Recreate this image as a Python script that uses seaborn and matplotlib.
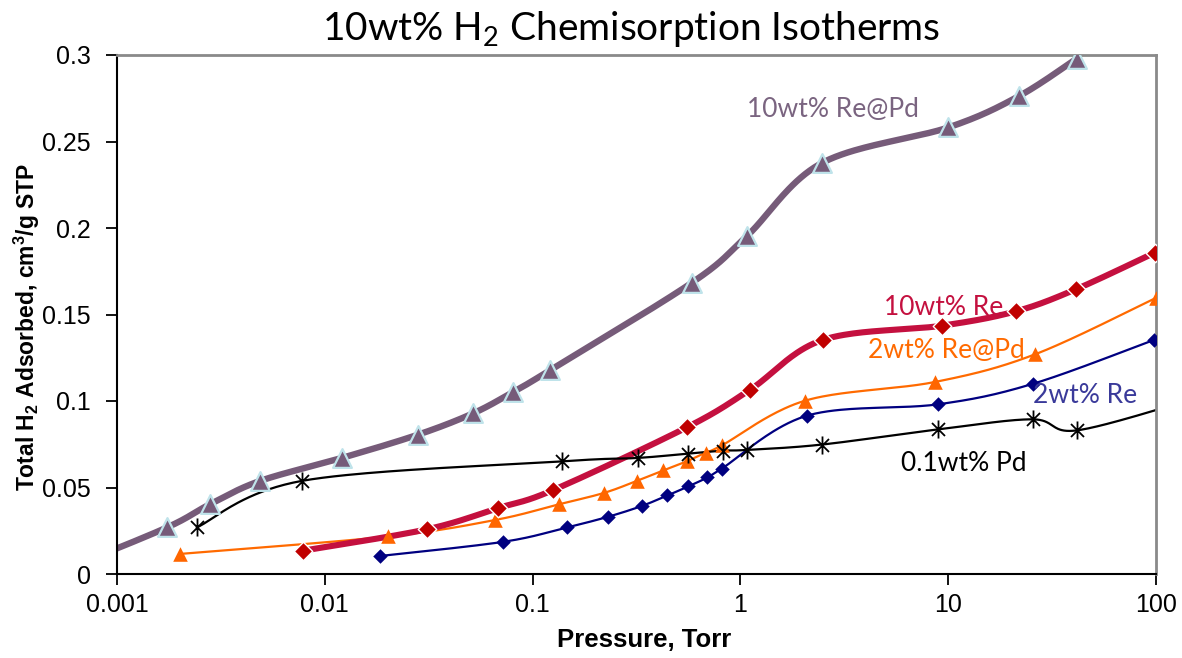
import numpy as np
import pandas as pd
import matplotlib
matplotlib.use("Agg")
import matplotlib.pyplot as plt
from matplotlib.path import Path
from matplotlib.ticker import FixedLocator, FixedFormatter, NullLocator
import seaborn as sns

# ---- isotherm data: pressure (Torr) and H2 uptake (cm3/g STP) ----
p_re_pd10 = [0.0006, 0.00174, 0.0028, 0.00488, 0.0121, 0.0282, 0.0518, 0.0808,
             0.121, 0.583, 1.07, 2.46, 10.0, 21.8, 41.5]
v_re_pd10 = [0.0040, 0.0269, 0.0403, 0.0538, 0.0671, 0.0806, 0.0929, 0.1053,
             0.1177, 0.1683, 0.1951, 0.2375, 0.2581, 0.2761, 0.2979]

p_re10 = [0.00788, 0.0309, 0.0682, 0.126, 0.551, 1.11, 2.49, 9.30, 21.1, 41.2, 98.9]
v_re10 = [0.0135, 0.0258, 0.0381, 0.0486, 0.0847, 0.1064, 0.1353, 0.1435,
          0.1518, 0.1646, 0.1858]

p_re_pd2 = [0.00201, 0.0202, 0.0659, 0.134, 0.221, 0.317, 0.426, 0.551, 0.681,
            0.813, 2.05, 8.64, 26.2, 100.0]
v_re_pd2 = [0.0116, 0.0217, 0.0312, 0.0403, 0.0469, 0.0538, 0.0599, 0.0651,
            0.0702, 0.0743, 0.1002, 0.1110, 0.1270, 0.1596]

p_re2 = [0.0184, 0.0723, 0.146, 0.231, 0.335, 0.445, 0.561, 0.693, 0.813,
         2.09, 8.96, 25.5, 97.8]
v_re2 = [0.0104, 0.0186, 0.0269, 0.0331, 0.0393, 0.0454, 0.0506, 0.0558,
         0.0609, 0.0915, 0.0981, 0.1099, 0.1353]

p_pd01 = [0.00242, 0.00774, 0.138, 0.321, 0.561, 0.822, 1.07, 2.46, 8.96,
          25.5, 41.5, 150.0]
v_pd01 = [0.0269, 0.0538, 0.0651, 0.0671, 0.0696, 0.0713, 0.0717, 0.0748,
          0.0836, 0.0894, 0.0830, 0.1010]

x_ticks = [0.001, 0.01, 0.1, 1, 10, 100]
x_tick_labels = ["0.001", "0.01", "0.1", "1", "10", "100"]
y_ticks = [0, 0.05, 0.1, 0.15, 0.2, 0.25, 0.3]
y_tick_labels = ["0", "0.05", "0.1", "0.15", "0.2", "0.25", "0.3"]


def smooth_curve(px, py, steps=40):
    """Catmull-Rom (Bezier) smoothing in log-pressure space."""
    u = np.log10(np.asarray(px, float))
    v = np.asarray(py, float)
    pts = np.column_stack([u, v])
    n = len(pts)
    out = []
    t = np.linspace(0, 1, steps, endpoint=False)
    for i in range(n - 1):
        p0 = pts[i - 1] if i > 0 else pts[i]
        p1 = pts[i]
        p2 = pts[i + 1]
        p3 = pts[i + 2] if i + 2 < n else pts[i + 1]
        c1 = p1 + (p2 - p0) / 6.0
        c2 = p2 - (p3 - p1) / 6.0
        tt = t[:, None]
        seg = ((1 - tt) ** 3 * p1 + 3 * (1 - tt) ** 2 * tt * c1
               + 3 * (1 - tt) * tt ** 2 * c2 + tt ** 3 * p2)
        out.append(seg)
    out.append(pts[-1:])
    out = np.vstack(out)
    return pd.DataFrame({"pressure": 10 ** out[:, 0], "uptake": out[:, 1]})


sns.set_theme(style="white")
plt.rcParams["font.family"] = ["Liberation Sans", "DejaVu Sans"]
plt.rcParams["mathtext.fontset"] = "custom"
plt.rcParams["mathtext.rm"] = "Lato"
plt.rcParams["mathtext.bf"] = "Liberation Sans:bold"

fig = plt.figure(figsize=(11.82, 6.58), dpi=100)
fig.patch.set_facecolor("white")
ax = fig.add_axes([117 / 1182, (658 - 574) / 658, (1156 - 117) / 1182, (574 - 55) / 658])
ax.set_facecolor("white")

# asterisk marker: vertical bar plus an X
star = Path([(0, -1), (0, 1), (-0.72, -0.72), (0.72, 0.72), (-0.72, 0.72), (0.72, -0.72)],
            [Path.MOVETO, Path.LINETO, Path.MOVETO, Path.LINETO, Path.MOVETO, Path.LINETO])

series = [
    # (pressures, uptakes, line colour, line width, marker, marker colour, size, edge colour, edge width)
    (p_re2, v_re2, "#000080", 1.6, "D", "#000080", 7.4, "#000080", 0.0),
    (p_re_pd2, v_re_pd2, "#ff6a00", 1.6, "^", "#ff6600", 10.5, "#ff6600", 0.0),
    (p_re10, v_re10, "#c4103f", 4.4, "D", "#c00000", 9.4, "white", 1.0),
    (p_re_pd10, v_re_pd10, "#765b79", 4.6, "^", "#765b79", 13.5, "#bfe3ea", 1.6),
    (p_pd01, v_pd01, "black", 1.6, star, "none", 13.0, "black", 1.3),
]

for px, py, lc, lw, mk, mc, ms, ec, ew in series:
    curve = smooth_curve(px, py)
    sns.lineplot(data=curve, x="pressure", y="uptake", sort=False, color=lc,
                 linewidth=lw, ax=ax, estimator=None, solid_capstyle="round")
    pts = pd.DataFrame({"pressure": px, "uptake": py})
    sns.scatterplot(data=pts, x="pressure", y="uptake", marker=mk, s=ms ** 2,
                    color=mc if mc != "none" else "black", edgecolor=ec,
                    linewidth=ew, ax=ax, zorder=3, clip_on=True)

ax.set_xscale("log")
ax.set_xlim(0.001, 100)
ax.set_ylim(0, 0.3)
ax.xaxis.set_major_locator(FixedLocator(x_ticks))
ax.xaxis.set_major_formatter(FixedFormatter(x_tick_labels))
ax.xaxis.set_minor_locator(NullLocator())
ax.yaxis.set_major_locator(FixedLocator(y_ticks))
ax.yaxis.set_major_formatter(FixedFormatter(y_tick_labels))
ax.tick_params(axis="both", which="major", direction="out", length=8, width=1.3,
               color="black", labelsize=18, labelcolor="black", bottom=True, left=True)
ax.tick_params(axis="y", pad=11)
ax.tick_params(axis="x", pad=6)

for side in ("left", "bottom"):
    ax.spines[side].set_color("black")
    ax.spines[side].set_linewidth(1.5)
for side in ("top", "right"):
    ax.spines[side].set_color("#8a8a8a")
    ax.spines[side].set_linewidth(2.0)

ax.set_xlabel("Pressure, Torr", fontsize=18.5, fontweight="bold", color="black")
ax.xaxis.set_label_coords(0.5 * (555 + 733) / 1039 - 117 / 1039, -(640 - 574) / 519)
ax.xaxis.label.set_verticalalignment("center")
ax.set_ylabel(r"Total H$_\mathbf{2}$ Adsorbed, cm$^\mathbf{3}$/g STP", fontsize=16.5,
              fontweight="bold", color="black")
ax.yaxis.set_label_coords((27 - 117) / 1039, (574 - 327) / 519)
ax.yaxis.label.set_verticalalignment("center")

fig.text(631 / 1182, 1 - 40 / 658, r"10wt% H$_\mathrm{2}$ Chemisorption Isotherms",
         ha="center", va="baseline", fontsize=28, family="Lato", color="black")

label_font = dict(family="Lato", fontsize=19, ha="center", va="baseline")
ax.text(2.79, 0.2642, "10wt% Re@Pd", color="#7a6480", **label_font)
ax.text(9.49, 0.1497, "10wt% Re", color="#c4103f", **label_font)
ax.text(9.75, 0.1248, "2wt% Re@Pd", color="#ff6a00", **label_font)
ax.text(45.5, 0.0988, "2wt% Re", color="#3a3a9a", **label_font)
ax.text(11.9, 0.0595, "0.1wt% Pd", color="black", **label_font)

fig.savefig("out.png", dpi=100, facecolor="white")
